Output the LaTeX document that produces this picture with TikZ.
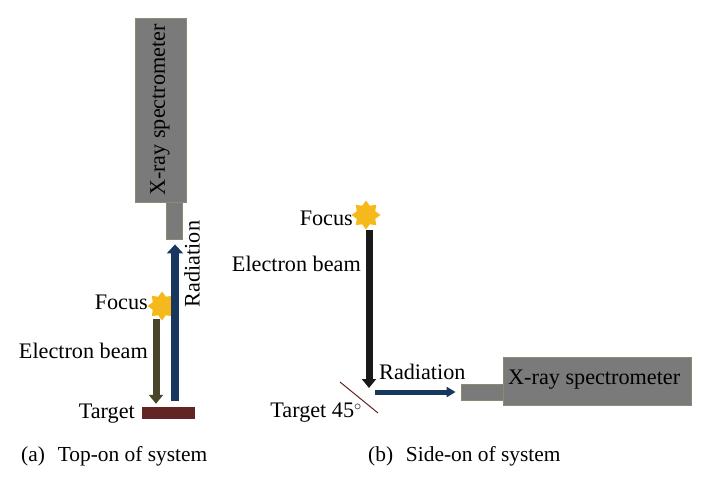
\documentclass[tikz,border=0pt]{standalone}
\usepackage{fontspec}
\setmainfont{Liberation Serif}
\usetikzlibrary{shapes.geometric}
\usetikzlibrary{arrows.meta}
\definecolor{specgray}{HTML}{7A7A7A}
\definecolor{specedge}{HTML}{8C8A70}
\definecolor{raynavy}{HTML}{17375E}
\definecolor{beamolive}{HTML}{4A452A}
\definecolor{targetred}{HTML}{632523}
\definecolor{stargold}{HTML}{F6B91B}
\tikzset{
  lbl/.style={inner sep=0pt, font=\fontsize{22.2}{25}\selectfont},
  caplbl/.style={inner sep=0pt, anchor=west, font=\fontsize{21.4}{25}\selectfont},
  specbox/.style={draw=specedge, line width=.8pt, fill=specgray, inner sep=0pt},
  focusstar/.style={star, star points=8, star point ratio=1.45, fill=stargold, inner sep=0pt, minimum size=29pt},
  beam/.style={line width=#1, -{Triangle[length=9pt, width=2*#1]}},
}
\begin{document}
\begin{tikzpicture}[x=1pt, y=-1pt]
  \useasboundingbox (0, 0) rectangle (704, 485);
  % top-on
  \node[specbox, minimum width=51pt, minimum height=184pt] (specA) at (160.5, 110) {};
  \node[lbl, rotate=90] (specAtext) at (160, 110) {X-ray spectrometer};
  \node[specbox, minimum width=16pt, minimum height=37pt] (tubeA) at (174, 220.5) {};
  \node[fill=targetred, inner sep=0pt, minimum width=53pt, minimum height=12pt] (targetA) at (168.5, 413) {};
  \node[focusstar] (starA) at (162, 306) {};
  \node[lbl, anchor=east] (focusA) at (148, 302) {Focus};
  \node[lbl, anchor=east] (beamA) at (148, 351) {Electron beam};
  \node[lbl, anchor=east] (tgtA) at (135, 414) {Target};
  \node[lbl, rotate=90] (radA) at (192, 264) {Radiation};
  \node[caplbl] (capA) at (21, 456) {(a)\hspace{.6em}Top-on of system};
  \coordinate (beamtopA) at (156, 319);
  \coordinate (raystartA) at (175, 401);
  % arrows
  \draw[beam=7pt, beamolive, shorten >=3pt] (beamtopA) -- (beamtopA |- targetA.north);
  \draw[beam=8pt, raynavy, shorten >=5pt] (raystartA) -- (raystartA |- tubeA.south);
  % side-on
  \node[specbox, minimum width=188pt, minimum height=48pt] (specB) at (597, 381) {};
  \node[lbl, anchor=west] (specBtext) at (508, 380) {X-ray spectrometer};
  \node[specbox, minimum width=42pt, minimum height=16pt] (tubeB) at (482, 392) {};
  \node[focusstar] (starB) at (366, 215) {};
  \node[lbl, anchor=east] (focusB) at (353, 218) {Focus};
  \node[lbl, anchor=east] (beamB) at (361, 264) {Electron beam};
  \node[lbl, anchor=east] (tgtB) at (362, 413) {Target 45$^{\circ}$};
  \node[lbl, anchor=west] (radB) at (379, 372) {Radiation};
  \node[caplbl] (capB) at (368, 456) {(b)\hspace{.6em}Side-on of system};
  \coordinate (beamtopB) at (369, 230);
  \coordinate (beamendB) at (369, 388);
  \coordinate (raystartB) at (375, 392);
  \coordinate (tgtlineA) at (340, 382);
  \coordinate (tgtlineB) at (378, 413);
  \draw[beam=7pt, black!90] (beamtopB) -- (beamendB);
  \draw[beam=5pt, raynavy, shorten >=5pt] (raystartB) -- (tubeB.west);
  \draw[targetred, line width=1pt] (tgtlineA) -- (tgtlineB);
\end{tikzpicture}
\end{document}
